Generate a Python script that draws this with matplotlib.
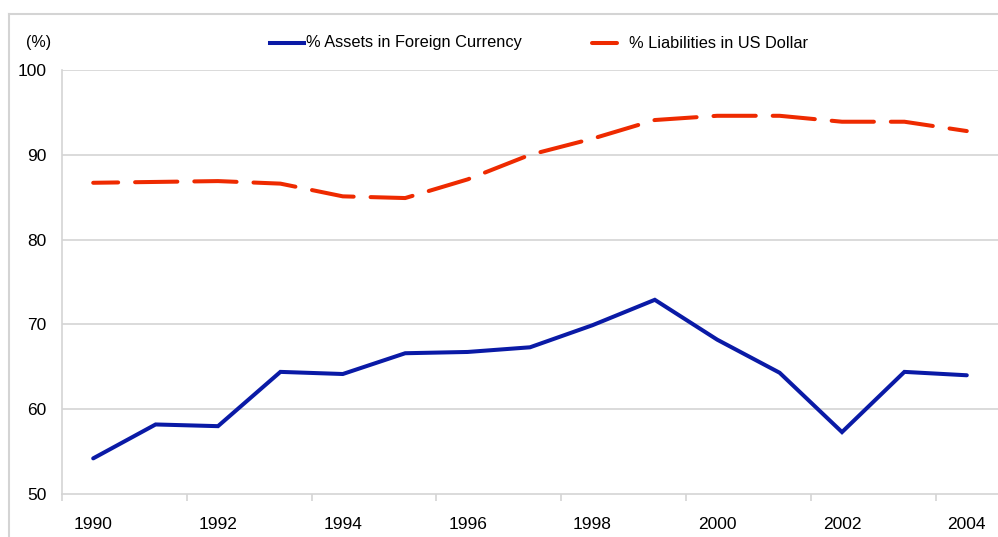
import matplotlib
matplotlib.use("Agg")
import matplotlib.pyplot as plt
from matplotlib.lines import Line2D

years = [str(y) for y in range(1990, 2005)]
assets_foreign = [54.2, 58.2, 58.0, 64.4, 64.15, 66.6, 66.75, 67.3, 69.9, 72.9, 68.2, 64.3, 57.3, 64.4, 64.0]
liab_usd = [86.7, 86.8, 86.9, 86.6, 85.1, 84.9, 87.1, 90.0, 91.9, 94.1, 94.6, 94.6, 93.9, 93.9, 92.8]
y_ticks = [50, 60, 70, 80, 90, 100]
x_labels = ["1990", "1992", "1994", "1996", "1998", "2000", "2002", "2004"]

plt.rcParams["font.family"] = ["Liberation Sans", "DejaVu Sans"]

BLUE = "#0a1aa6"
RED = "#ee2a00"
GRID = "#d4d4d4"

W, H = 998, 537
fig = plt.figure(figsize=(W / 100, H / 100), dpi=100)

# outer frame (cut off at right/bottom)
fig.add_artist(Line2D([9 / W, 9 / W], [0, 1 - 14 / H], color=GRID, lw=1.5, transform=fig.transFigure))
fig.add_artist(Line2D([9 / W, 1], [1 - 14 / H, 1 - 14 / H], color=GRID, lw=1.5, transform=fig.transFigure))

ax = fig.add_axes([62 / W, 1 - 494 / H, 1 - 62 / W, (494 - 70) / H])
n = len(years)
x = list(range(n))
ax.plot(x, assets_foreign, color=BLUE, lw=2.9, solid_capstyle="round", solid_joinstyle="miter", zorder=3)
ax.plot(x, liab_usd, color=RED, lw=2.9, linestyle=(4.3, (10.5, 4.2)), dash_capstyle="round", zorder=3)

ax.set_xlim(-0.5, n - 0.5)
ax.set_ylim(50, 100)
ax.set_yticks(y_ticks)
ax.set_yticklabels([str(v) for v in y_ticks], fontsize=12.5)
ax.tick_params(axis="y", length=0, pad=11)
for v in y_ticks[1:]:
    ax.axhline(v, color=GRID, lw=1.2, zorder=1)

# x ticks at category boundaries every two, labels at category centers
ax.set_xticks([i - 0.5 for i in range(0, n, 2)])
ax.set_xticklabels([])
ax.tick_params(axis="x", length=5, color=GRID, width=1.2, direction="out")
for i, lab in zip(range(0, n, 2), x_labels):
    ax.text(i, -0.072, lab, transform=ax.get_xaxis_transform(), ha="center", va="center", fontsize=12.5)

for s in ["top", "right"]:
    ax.spines[s].set_visible(False)
for s in ["left", "bottom"]:
    ax.spines[s].set_color(GRID)
    ax.spines[s].set_linewidth(1.2)

fig.text(39 / W, 1 - 42 / H, "(%)", ha="center", va="center", fontsize=11.5)

# legend
ly = 1 - 43 / H
fig.add_artist(Line2D([270 / W, 304 / W], [ly, ly], color=BLUE, lw=2.9, transform=fig.transFigure))
fig.text(306 / W, ly, "% Assets in Foreign Currency", ha="left", va="center", fontsize=11.8)
fig.add_artist(Line2D([592 / W, 617 / W], [ly, ly], color=RED, lw=2.9, solid_capstyle="round", transform=fig.transFigure))
fig.text(629 / W, ly, "% Liabilities in US Dollar", ha="left", va="center", fontsize=11.8)

fig.savefig("out.png", dpi=100)
